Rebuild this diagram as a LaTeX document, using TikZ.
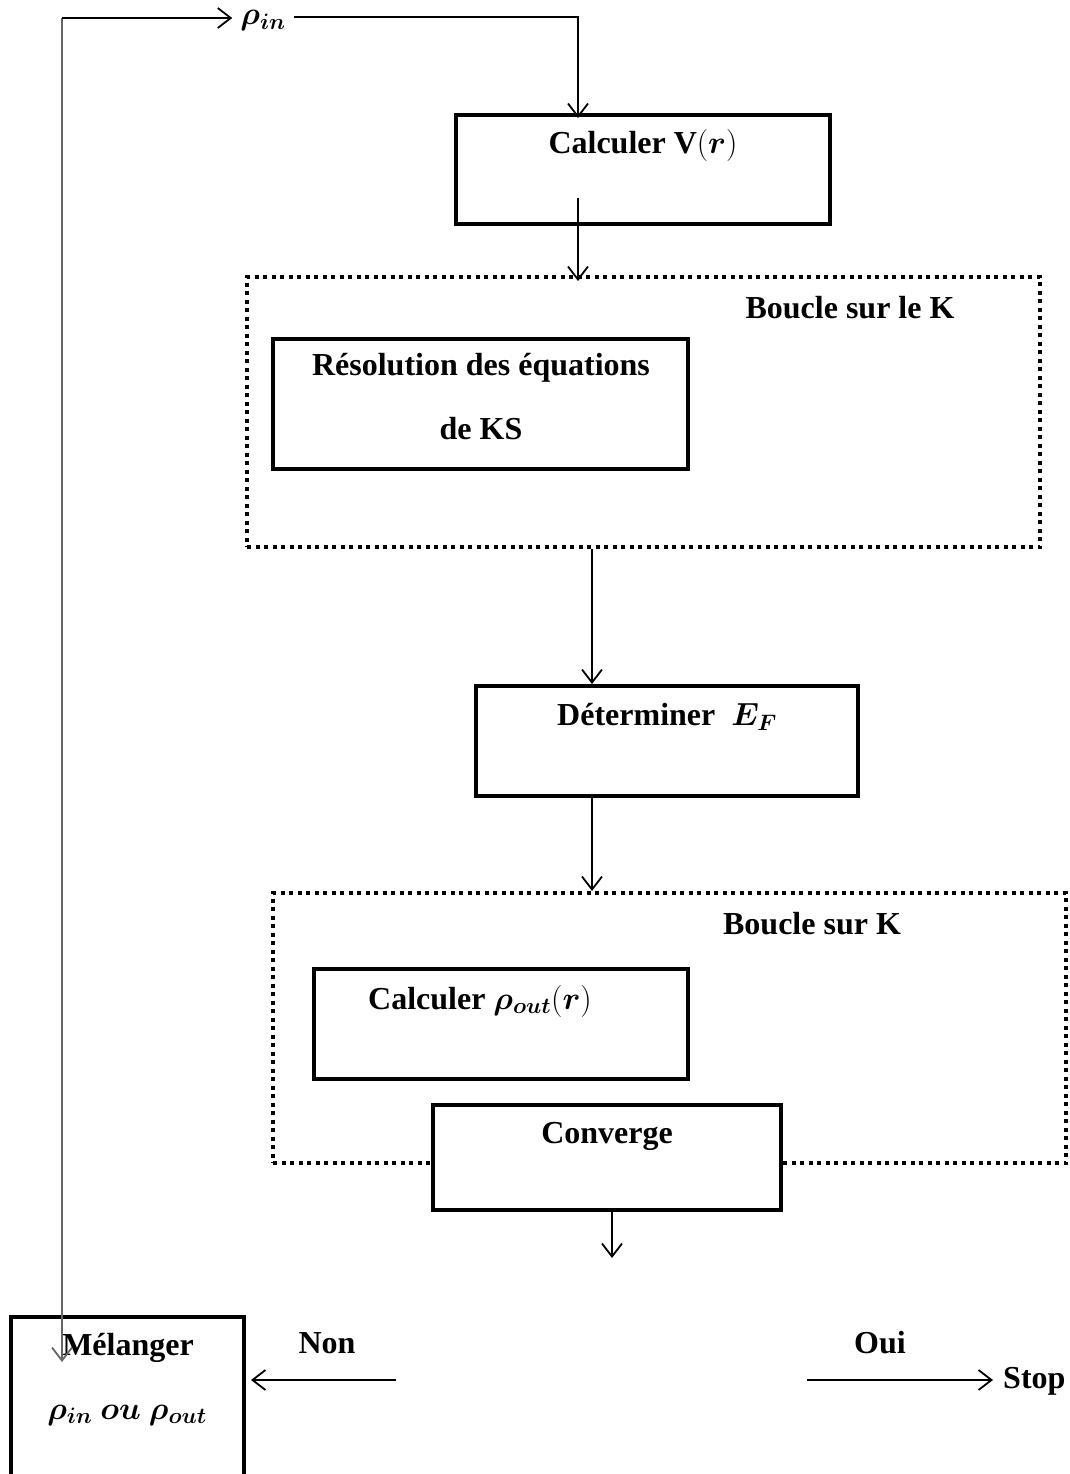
\RequirePackage{fix-cm}
\documentclass[tikz,border=0pt]{standalone}
\usepackage{amsmath,amssymb}
\usepackage{bm}
\usepackage{fontspec}
\setmainfont{Liberation Serif}
\usetikzlibrary{arrows.meta}

\begin{document}
\begin{tikzpicture}[x=1pt,y=-1pt]
				\tikzstyle{bx}=[draw,line width=4pt,rectangle,inner sep=0pt]
				\tikzstyle{kb}=[draw,line width=4pt,dash pattern=on 4pt off 4.5pt,rectangle,inner sep=0pt]
				\tikzstyle{lab}=[font=\fontsize{32}{38}\selectfont\bfseries,inner sep=0pt]
				\tikzstyle{arr}=[line width=1.8pt,-{Straight Barb[length=13pt,width=20pt,line width=1.8pt]}]

				\useasboundingbox (0,0) rectangle (1070,1474);

				% boucles
				\node[kb,minimum width=793pt,minimum height=270pt] (k1) at (643.5,412) {};
				\node[kb,minimum width=793pt,minimum height=270pt] (k2) at (669.5,1028) {};

				% boites
				\node[bx,minimum width=374pt,minimum height=109pt] (vr) at (643,169.5) {};
				\node[bx,minimum width=415pt,minimum height=130pt] (ks) at (480.5,404) {};
				\node[bx,minimum width=382pt,minimum height=110pt] (ef) at (667,741) {};
				\node[bx,minimum width=374pt,minimum height=110pt] (rout) at (501,1024) {};
				\node[bx,fill=white,minimum width=348pt,minimum height=105pt] (conv) at (607,1157.5) {};
				\node[bx,minimum width=233pt,minimum height=173pt] (mel) at (127.5,1403.5) {};

				% textes
				\node[lab,inner xsep=8pt] (rin) at (263,21) {$\bm{\rho_{in}}$};
				\node[lab] (tvr) at (643,146) {Calculer V$(\bm{r})$};
				\node[lab] (tk1) at (850,308) {Boucle sur le K};
				\node[lab] (tks1) at (481,368) {Résolution des équations};
				\node[lab] (tks2) at (481,429) {de KS};
				\node[lab] (tef) at (667,717) {Déterminer \ $\bm{E_F}$};
				\node[lab] (tk2) at (812,924) {Boucle sur K};
				\node[lab] (trout) at (480,1001) {Calculer $\bm{\rho_{out}}(\bm{r})$};
				\node[lab] (tconv) at (607,1136) {Converge};
				\node[lab] (tmel1) at (128,1348) {Mélanger};
				\node[lab] (tmel2) at (127,1415) {$\bm{\rho_{in}}$ $\bm{ou}$ $\bm{\rho_{out}}$};
				\node[lab] (non) at (327,1343) {Non};
				\node[lab] (oui) at (880,1343) {Oui};
				\node[lab,anchor=west] (stop) at (1003,1381) {Stop};

				\coordinate (tl) at (62,18);
				\coordinate (tr) at (578,17);
				\coordinate (mi) at (62,1362);
				\coordinate (vrout) at (578,198);
				\coordinate (c1) at (592,0);
				\coordinate (cv) at (612,1258);
				\coordinate (nonst) at (396,1380);
				\coordinate (ouist) at (807,1380);

				\draw[arr,black!60,line width=2pt] (tl) -- (mi);
				\draw[arr] (tl) -- (tl -| rin.west);
				\draw[arr] (tr -| rin.east) -- (tr) -- ([yshift=-5pt]tr |- vr.north);
				\draw[arr] (vrout) -- ([yshift=-6pt]vrout |- k1.north);
				\foreach \from/\to in {k1/ef,ef/k2}
				\draw [arr] (\from.south -| c1) -- (\to.north -| c1);
				\draw[arr] (conv.south -| cv) -- (cv);
				\draw[arr,shorten >=5pt] (nonst) -- (nonst -| mel.east);
				\draw[arr,shorten >=10pt] (ouist) -- (ouist -| stop.west);
			\end{tikzpicture}
\end{document}
